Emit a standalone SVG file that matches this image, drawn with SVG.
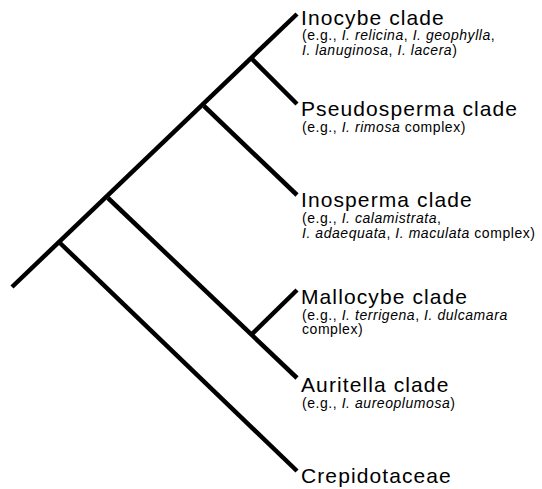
<svg xmlns="http://www.w3.org/2000/svg" width="542" height="489" viewBox="0 0 542 489">
<style>
.br{stroke:#000;stroke-width:4.5;stroke-linecap:butt;fill:none}
.t{font-family:"Liberation Sans",Arial,sans-serif;font-size:21px;letter-spacing:1.1px;fill:#000}
.s{font-family:"Liberation Sans",Arial,sans-serif;font-size:14px;letter-spacing:0.55px;fill:#000}
.i{font-style:italic}
</style>
<rect width="542" height="489" fill="#fff"/>
<g id="connectors">
<line class="br" x1="12" y1="287" x2="297" y2="14"/>
<line class="br" x1="252" y1="59" x2="297" y2="104"/>
<line class="br" x1="204" y1="106" x2="297" y2="195"/>
<line class="br" x1="108" y1="198" x2="297" y2="378"/>
<line class="br" x1="60" y1="243" x2="297" y2="471"/>
<line class="br" x1="252" y1="334" x2="297" y2="290"/>
</g>
<g id="inocybe">
<text class="t" x="301" y="25">Inocybe clade</text>
<text class="s" x="302" y="40">(e.g., <tspan class="i">I. relicina</tspan>, <tspan class="i">I. geophylla</tspan>,</text>
<text class="s" x="302" y="55"><tspan class="i">I. lanuginosa</tspan>, <tspan class="i">I. lacera</tspan>)</text>
</g>
<g id="pseudosperma">
<text class="t" x="301" y="116">Pseudosperma clade</text>
<text class="s" x="302" y="132">(e.g., <tspan class="i">I. rimosa</tspan> complex)</text>
</g>
<g id="inosperma">
<text class="t" x="301" y="207">Inosperma clade</text>
<text class="s" x="302" y="223">(e.g., <tspan class="i">I. calamistrata</tspan>,</text>
<text class="s" x="302" y="238"><tspan class="i">I. adaequata</tspan>, <tspan class="i">I. maculata</tspan> complex)</text>
</g>
<g id="mallocybe">
<text class="t" x="301" y="304">Mallocybe clade</text>
<text class="s" x="302" y="320">(e.g., <tspan class="i">I. terrigena</tspan>, <tspan class="i">I. dulcamara</tspan></text>
<text class="s" x="302" y="334">complex)</text>
</g>
<g id="auritella">
<text class="t" x="301" y="392">Auritella clade</text>
<text class="s" x="302" y="408">(e.g., <tspan class="i">I. aureoplumosa</tspan>)</text>
</g>
<g id="crepidotaceae">
<text class="t" x="301" y="483">Crepidotaceae</text>
</g>
</svg>
